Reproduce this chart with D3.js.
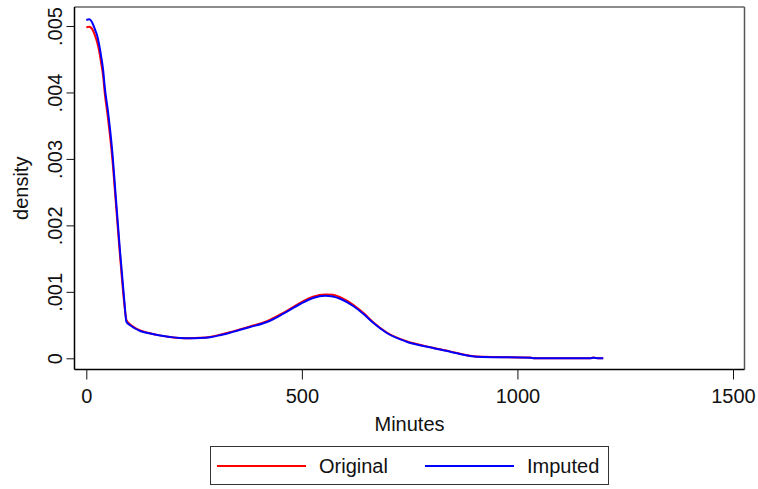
<!DOCTYPE html>
<html>
<head>
<meta charset="utf-8">
<script src="https://cdn.jsdelivr.net/npm/d3@7"></script>
<style>
  body { margin: 0; background: #fff; }
  text { font-family: "Liberation Sans", Arial, sans-serif; fill: #111; }
</style>
</head>
<body>
<script>
let minutes = [0, 7, 13, 20, 25, 30, 34, 39, 43, 50, 60, 69, 78, 88, 93, 101, 111, 125, 148, 171,
    194, 217, 241, 264, 287, 310, 340, 380, 419, 456, 496, 526, 554, 572, 590, 619, 643, 666, 697, 743,
    804, 844, 890, 920, 1029, 1041, 1169, 1176, 1187, 1199];

let original = [0.00498, 0.00499, 0.00496, 0.00486, 0.00476, 0.00462, 0.00446, 0.00425, 0.00398, 0.00363,
    0.00303, 0.00230, 0.00156, 0.00083, 0.00058, 0.000515, 0.000466, 0.00042, 0.000378, 0.000345,
    0.00032, 0.000305, 0.000302, 0.000308, 0.000322, 0.000354, 0.000405, 0.00048, 0.000558, 0.00068,
    0.000835, 0.000928, 0.00096, 0.000955, 0.000915, 0.000805, 0.00068, 0.00054, 0.000388, 0.000256,
    0.00016, 0.000104, 0.000038, 0.000022, 0.000012, 0, 0, 0.000012, 0, 0];

let imputed = [0.00509, 0.00510, 0.00506, 0.00495, 0.00486, 0.00471, 0.00456, 0.00434, 0.00407, 0.00373,
    0.00313, 0.00238, 0.00163, 0.00088, 0.00055, 0.00050, 0.000456, 0.000411, 0.000373, 0.000343,
    0.00032, 0.000305, 0.000302, 0.000305, 0.000318, 0.000348, 0.000398, 0.000471, 0.000546, 0.000667,
    0.000817, 0.000907, 0.00094, 0.00093, 0.000892, 0.000787, 0.000667, 0.000531, 0.000381, 0.00025,
    0.000155, 0.0001, 0.000035, 0.00002, 0.00001, 0, 0, 0.00001, 0, 0];

let xTicks = [0, 500, 1000, 1500];
let yTicks = [0, 0.001, 0.002, 0.003, 0.004, 0.005];
let seriesNames = ["Original", "Imputed"];
let seriesColors = ["#ff0000", "#0000ff"];

let width = 758, height = 489;
let frame = {left: 74.5, right: 744.5, top: 7, bottom: 369.5};

let svg = d3.select("body").append("svg")
    .attr("width", width)
    .attr("height", height);

// scales
let x = d3.scaleLinear().domain([0, 1500]).range([86.3, 733]);
let y = d3.scaleLinear().domain([0, 0.005]).range([358.3, 26]);

// frame of the plot region
svg.append("line")
    .attr("x1", frame.left).attr("x2", frame.right)
    .attr("y1", frame.top).attr("y2", frame.top)
    .attr("stroke", "#666").attr("stroke-width", 1.5);
svg.append("line")
    .attr("x1", frame.right).attr("x2", frame.right)
    .attr("y1", frame.top).attr("y2", frame.bottom)
    .attr("stroke", "#555").attr("stroke-width", 1.5);

// y axis
let yAxis = svg.append("g")
    .attr("transform", "translate(" + frame.left + ",0)")
    .call(d3.axisLeft(y)
        .tickValues(yTicks)
        .tickSize(8)
        .tickFormat(d => d === 0 ? "0" : d3.format(".3f")(d).replace(/^0/, "")));
yAxis.select(".domain").remove();
yAxis.selectAll("line").attr("stroke", "#111");
yAxis.selectAll("text")
    .attr("x", 0)
    .attr("y", -13)
    .attr("dy", 0)
    .attr("text-anchor", "middle")
    .attr("transform", "rotate(-90)")
    .style("font-size", "20px")
    .style("font-family", "'Liberation Sans', Arial, sans-serif")
    .attr("fill", "#111");

// x axis
let xAxis = svg.append("g")
    .attr("transform", "translate(0," + frame.bottom + ")")
    .call(d3.axisBottom(x).tickValues(xTicks).tickSize(10).tickFormat(d3.format("d")));
xAxis.select(".domain").remove();
xAxis.selectAll("line").attr("stroke", "#111");
xAxis.selectAll("text")
    .attr("y", 33.5)
    .attr("dy", 0)
    .style("font-size", "20px")
    .style("font-family", "'Liberation Sans', Arial, sans-serif")
    .attr("fill", "#111");

// left and bottom frame lines (drawn over the axes)
svg.append("line")
    .attr("x1", frame.left).attr("x2", frame.left)
    .attr("y1", frame.top).attr("y2", frame.bottom)
    .attr("stroke", "#000").attr("stroke-width", 1.5);
svg.append("line")
    .attr("x1", frame.left).attr("x2", frame.right)
    .attr("y1", frame.bottom).attr("y2", frame.bottom)
    .attr("stroke", "#000").attr("stroke-width", 1.5);

// axis titles
svg.append("text")
    .attr("x", (frame.left + frame.right) / 2)
    .attr("y", 431)
    .attr("text-anchor", "middle")
    .style("font-size", "20px")
    .text("Minutes");

svg.append("text")
    .attr("transform", "translate(28," + ((frame.top + frame.bottom) / 2) + ") rotate(-90)")
    .attr("text-anchor", "middle")
    .style("font-size", "20px")
    .text("density");

// density lines
let series = [original, imputed];
let line = d3.line()
    .x(d => x(d[0]))
    .y(d => y(d[1]))
    .curve(d3.curveMonotoneX);

svg.selectAll(".curve")
    .data(series)
    .join("path")
    .attr("class", "curve")
    .attr("fill", "none")
    .attr("stroke", (d, i) => seriesColors[i])
    .attr("stroke-width", 2)
    .attr("stroke-linejoin", "round")
    .attr("d", d => line(minutes.map((m, i) => [m, d[i]])));

// legend
let legend = svg.append("g");
legend.append("rect")
    .attr("x", 210.5).attr("y", 446.5)
    .attr("width", 398).attr("height", 38)
    .attr("fill", "#fff")
    .attr("stroke", "#333").attr("stroke-width", 1);

let items = legend.selectAll(".item")
    .data(seriesNames)
    .join("g")
    .attr("class", "item")
    .attr("transform", (d, i) => "translate(" + (217 + i * 208) + ",466)");
items.append("line")
    .attr("x1", 0).attr("x2", 89)
    .attr("y1", 0).attr("y2", 0)
    .attr("stroke", (d, i) => seriesColors[i])
    .attr("stroke-width", 2);
items.append("text")
    .attr("x", 102)
    .attr("y", 6.5)
    .style("font-size", "20px")
    .text(d => d);
</script>
</body>
</html>
